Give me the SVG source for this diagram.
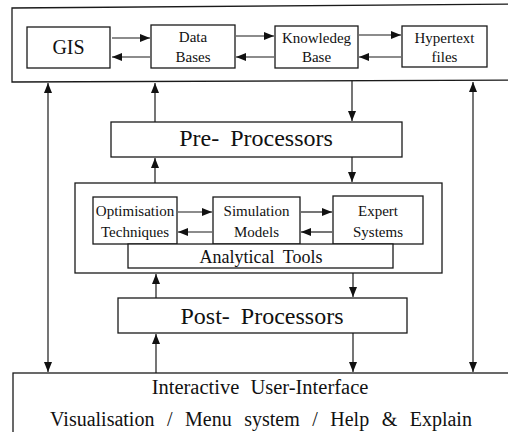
<svg xmlns="http://www.w3.org/2000/svg" width="508" height="432" viewBox="0 0 508 432">
  <defs>
    <marker id="arrow" viewBox="0 0 10 8" refX="10" refY="4" markerWidth="10" markerHeight="8" markerUnits="userSpaceOnUse" orient="auto-start-reverse">
      <path d="M0,0 L10,4 L0,8 z" fill="#111"/>
    </marker>
    <style>
      .box { fill: #fff; stroke: #1a1a1a; stroke-width: 1.3; }
      .frame { fill: none; stroke: #1a1a1a; stroke-width: 1.3; }
      .link { fill: none; stroke: #1a1a1a; stroke-width: 1.2; marker-end: url(#arrow); }
      .both { marker-start: url(#arrow); }
      text { font-family: "Liberation Serif", "Times New Roman", serif; fill: #111; text-anchor: middle; }
      .small { font-size: 15px; }
      .big { font-size: 24px; }
    </style>
  </defs>

  <!-- data layer frame -->
  <g id="data-layer">
    <path class="frame" d="M520,4 L12,8 L12,82 L520,80"/>
  </g>

  <g id="gis">
    <rect class="box" x="27" y="27" width="83" height="41"/>
    <text x="68.5" y="54" style="font-size:20px">GIS</text>
  </g>
  <g id="data-bases">
    <rect class="box" x="151" y="25" width="84" height="43"/>
    <text class="small" x="193" y="42">Data</text>
    <text class="small" x="193" y="62">Bases</text>
  </g>
  <g id="knowledge-base">
    <rect class="box" x="275" y="26" width="83" height="42"/>
    <text class="small" x="316.5" y="43">Knowledeg</text>
    <text class="small" x="316.5" y="62">Base</text>
  </g>
  <g id="hypertext-files">
    <rect class="box" x="402" y="26" width="85" height="41"/>
    <text class="small" x="444.5" y="43">Hypertext</text>
    <text class="small" x="444.5" y="62">files</text>
  </g>

  <g id="pre-processors">
    <rect class="box" x="111" y="122" width="291" height="35"/>
    <text class="big" x="256" y="146" word-spacing="5">Pre- Processors</text>
  </g>

  <!-- analysis layer frame -->
  <g id="analysis-layer">
    <rect class="frame" x="75" y="183" width="367" height="90"/>
  </g>
  <g id="optimisation">
    <rect class="box" x="93" y="197" width="84" height="47"/>
    <text class="small" x="135" y="216">Optimisation</text>
    <text class="small" x="135" y="237">Techniques</text>
  </g>
  <g id="simulation">
    <rect class="box" x="213" y="197" width="87" height="47"/>
    <text class="small" x="256.5" y="216">Simulation</text>
    <text class="small" x="256.5" y="237">Models</text>
  </g>
  <g id="expert-systems">
    <rect class="box" x="333" y="196" width="90" height="48"/>
    <text class="small" x="378" y="216">Expert</text>
    <text class="small" x="378" y="237">Systems</text>
  </g>
  <g id="analytical-tools">
    <rect class="box" x="128" y="244" width="265" height="24"/>
    <text x="261" y="262.5" style="font-size:18px" word-spacing="4">Analytical Tools</text>
  </g>

  <g id="post-processors">
    <rect class="box" x="118" y="298" width="289" height="35"/>
    <text class="big" x="262" y="324" word-spacing="5">Post- Processors</text>
  </g>

  <g id="user-interface">
    <rect class="box" x="13" y="373" width="510" height="80"/>
    <text x="260" y="394" style="font-size:20.5px" word-spacing="6">Interactive User-Interface</text>
    <text x="261" y="426" style="font-size:20px" word-spacing="7.5">Visualisation / Menu system / Help &amp; Explain</text>
  </g>

  <g id="connectors">
    <!-- data layer exchanges -->
    <line class="link" x1="112" y1="38" x2="150" y2="38"/>
    <line class="link" x1="150" y1="57" x2="112" y2="57"/>
    <line class="link" x1="236" y1="36" x2="274" y2="36"/>
    <line class="link" x1="274" y1="57" x2="236" y2="57"/>
    <line class="link" x1="359" y1="35" x2="401" y2="35"/>
    <line class="link" x1="401" y1="57" x2="359" y2="57"/>

    <!-- analysis layer exchanges -->
    <line class="link" x1="178" y1="212" x2="212" y2="212"/>
    <line class="link" x1="212" y1="232" x2="178" y2="232"/>
    <line class="link" x1="301" y1="212" x2="332" y2="212"/>
    <line class="link" x1="332" y1="232" x2="301" y2="232"/>

    <!-- direct links between data layer and user interface -->
    <line class="link both" x1="48" y1="83" x2="48" y2="372"/>
    <line class="link both" x1="473" y1="82" x2="473" y2="372"/>

    <!-- vertical flow through the processors -->
    <line class="link" x1="155" y1="122" x2="155" y2="83"/>
    <line class="link" x1="352" y1="81" x2="352" y2="121"/>
    <line class="link" x1="155" y1="183" x2="155" y2="158"/>
    <line class="link" x1="352" y1="157" x2="352" y2="182"/>
    <line class="link" x1="156" y1="298" x2="156" y2="274"/>
    <line class="link" x1="353" y1="273" x2="353" y2="297"/>
    <line class="link" x1="156" y1="373" x2="156" y2="334"/>
    <line class="link" x1="353" y1="333" x2="353" y2="372"/>
  </g>
</svg>
